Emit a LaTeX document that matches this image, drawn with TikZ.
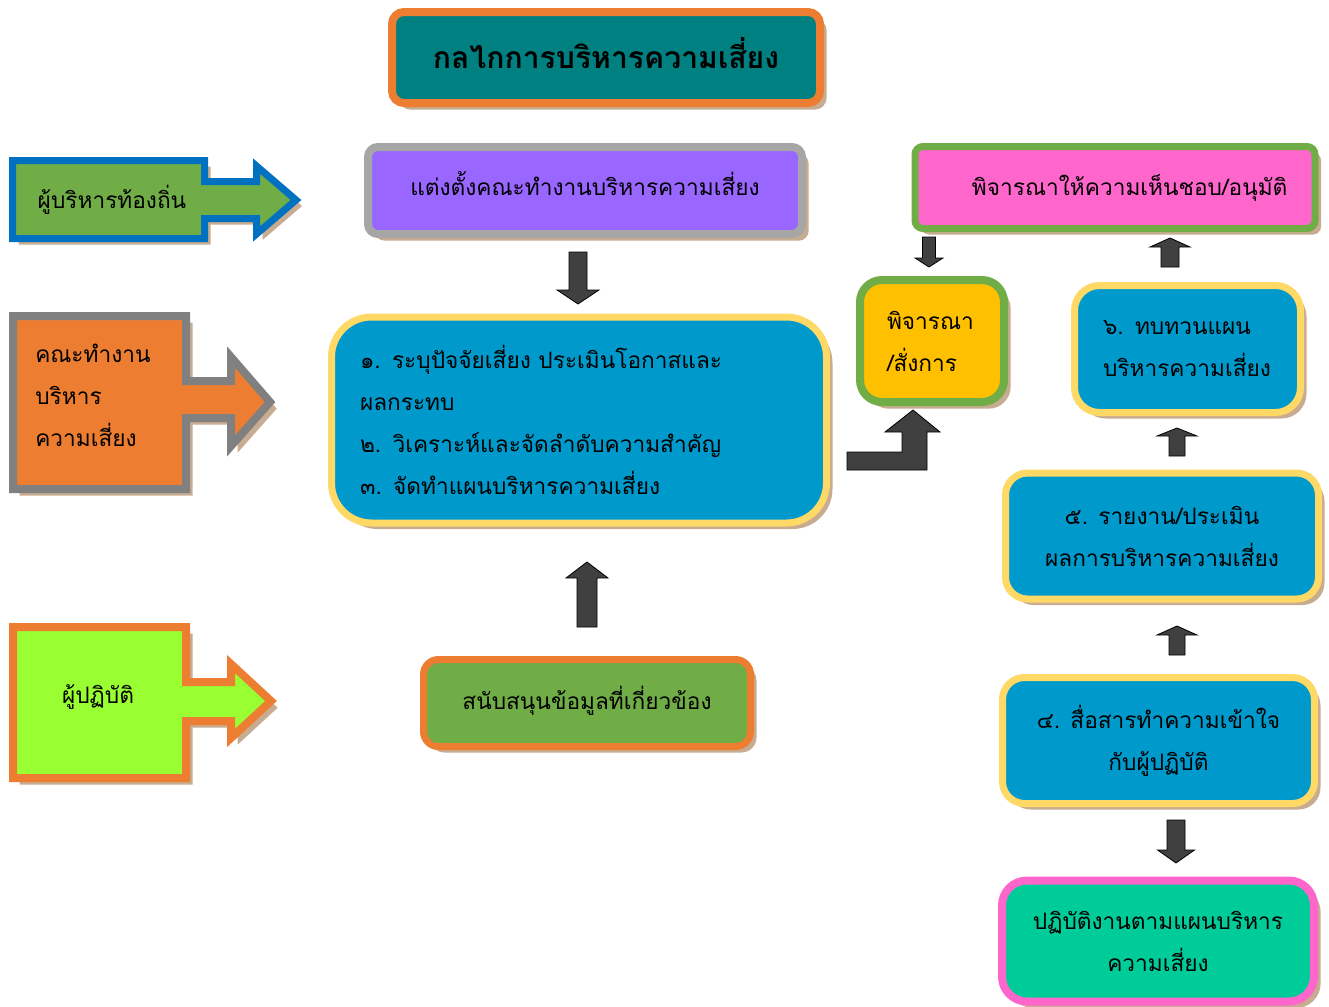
\documentclass[tikz,border=0pt]{standalone}
\usepackage{fontspec}
\newfontfamily\thai[Script=Thai]{Loma}
\usetikzlibrary{shadows}
\definecolor{titleteal}{RGB}{0,128,128}
\definecolor{orangeB}{RGB}{237,125,49}
\definecolor{purpleF}{RGB}{153,102,255}
\definecolor{grayB}{RGB}{166,166,166}
\definecolor{pinkC}{RGB}{255,102,204}
\definecolor{greenC}{RGB}{112,173,71}
\definecolor{blueF}{RGB}{0,153,204}
\definecolor{yellowB}{RGB}{255,217,102}
\definecolor{goldF}{RGB}{255,192,0}
\definecolor{limeF}{RGB}{153,255,51}
\definecolor{tealG}{RGB}{0,204,153}
\definecolor{blueB}{RGB}{0,112,192}
\definecolor{dgrayB}{RGB}{128,128,128}
\definecolor{arrowgray}{RGB}{64,64,64}
\definecolor{shadowtan}{RGB}{200,172,145}
\newcommand\myvarrow[6]{\draw[barrow] (#1-#5,#2) -- (#1+#5,#2) -- (#1+#5,#3) -- (#1+#6,#3) -- (#1,#4) -- (#1-#6,#3) -- (#1-#5,#3) -- cycle;}
\begin{document}
\begin{tikzpicture}[x=0.75pt,y=-0.75pt,
  base/.style={font=\thai\fontsize{17}{31.5}\selectfont, text=black, inner sep=0pt},
  shad/.style={drop shadow={shadow xshift=#1, shadow yshift=-#1, fill=shadowtan, opacity=1}},
  barrow/.style={fill=arrowgray, draw=black, line width=0.6pt},
  boxA/.style={base, line width=5.25pt, shad=4.5pt},
  boxB/.style={base, line width=6pt, shad=5pt}]
\useasboundingbox (0,0) rectangle (1329,1007);

% title
\node[boxB, draw=orangeB, fill=titleteal, rounded corners=9pt, minimum width=321pt, minimum height=68.25pt,
  label={[base, font=\thai\bfseries\fontsize{22.6}{30}\selectfont, yshift=3pt]center:กลไกการบริหารความเสี่ยง}] (title) at (606,57.5) {};

% left arrows
\draw[shad=4.5pt, draw=blueB, fill=greenC, line width=5.25pt, line join=miter]
  (12.5,160.5) -| (204.5,181.5) -| (256.5,166) -- (296,200) -- (256.5,234) |- (204.5,218.5) |- (12.5,238.5) -- cycle;
\node[base] (t1) at (112,200) {ผู้บริหารท้องถิ่น};

\draw[shad=5pt, draw=dgrayB, fill=orangeB, line width=6pt, line join=miter]
  (13,316) -| (186,381) -| (231,357) -- (270,402) -- (231,446) |- (186,418) |- (13,489) -- cycle;
\node[base, align=left, anchor=west] (t2) at (35,395) {คณะทำงาน\\บริหาร\\ความเสี่ยง};

\draw[shad=5pt, draw=orangeB, fill=limeF, line width=6pt, line join=miter]
  (13,627) -| (186,682) -| (231,664) -- (271,701) -- (231,738) |- (186,721) |- (13,778) -- cycle;
\node[base] (t3) at (98,697) {ผู้ปฏิบัติ};

% centre column
\node[boxB, draw=grayB, fill=purpleF, rounded corners=7.5pt, minimum width=325.5pt, minimum height=65.25pt,
  label={[base, yshift=5.5pt]center:แต่งตั้งคณะทำงานบริหารความเสี่ยง}] (appoint) at (585,190.5) {};

\node[boxA, draw=yellowB, fill=blueF, rounded corners=30pt, minimum width=371.25pt, minimum height=154.5pt,
  text width=328.5pt, align=left] (steps) at (579,420) {๑. ระบุปัจจัยเสี่ยง ประเมินโอกาสและ\\ผลกระทบ\\๒. วิเคราะห์และจัดลำดับความสำคัญ\\๓. จัดทำแผนบริหารความเสี่ยง};

\node[boxA, draw=orangeB, fill=greenC, rounded corners=11.25pt, minimum width=245.25pt, minimum height=65.25pt,
  label={[base, yshift=2pt]center:สนับสนุนข้อมูลที่เกี่ยวข้อง}] (support) at (587,703) {};

% right column
\node[boxA, draw=greenC, fill=pinkC, rounded corners=6pt, minimum width=300pt, minimum height=61.5pt,
  label={[base, xshift=11pt]center:พิจารณาให้ความเห็นชอบ/อนุมัติ}] (approve) at (1115,187.5) {};

\node[boxB, draw=greenC, fill=goldF, rounded corners=16.5pt, minimum width=108pt, minimum height=91.5pt,
  text width=67.5pt, align=left] (order) at (932,341) {พิจารณา\\/สั่งการ};

\node[boxA, draw=yellowB, fill=blueF, rounded corners=18.75pt, minimum width=169.5pt, minimum height=95.25pt,
  text width=126.75pt, align=left] (review) at (1187.5,349) {๖. ทบทวนแผน\\บริหารความเสี่ยง};

\node[boxA, draw=yellowB, fill=blueF, rounded corners=16.5pt, minimum width=234.75pt, minimum height=94.5pt,
  align=center] (report) at (1162,536) {๕. รายงาน/ประเมิน\\ผลการบริหารความเสี่ยง};

\node[boxA, draw=yellowB, fill=blueF, rounded corners=16.5pt, minimum width=234pt, minimum height=94.5pt,
  align=center] (comm) at (1158.5,740.5) {๔. สื่อสารทำความเข้าใจ\\กับผู้ปฏิบัติ};

\node[boxB, draw=pinkC, fill=tealG, rounded corners=18.75pt, minimum width=234pt, minimum height=90.75pt,
  align=center] (practice) at (1158,941) {ปฏิบัติงานตามแผนบริหาร\\ความเสี่ยง};

% block arrows
\myvarrow{578}{252}{290}{304}{9}{21}
\myvarrow{587}{627}{578}{562}{10}{21}
\myvarrow{929}{237}{258}{267}{6.5}{14}
\myvarrow{1170}{267}{247}{238}{9}{20}
\myvarrow{1177}{456}{436}{428}{8}{20}
\myvarrow{1177}{655}{635}{626}{8}{20}
\myvarrow{1176}{820}{850}{863}{9}{18.5}
\draw[barrow] (847,452) -- (902,452) -- (902,432) -- (885,432) -- (913,410) -- (940,432) -- (927,432) -- (927,470) -- (847,470) -- cycle;
\end{tikzpicture}
\end{document}
